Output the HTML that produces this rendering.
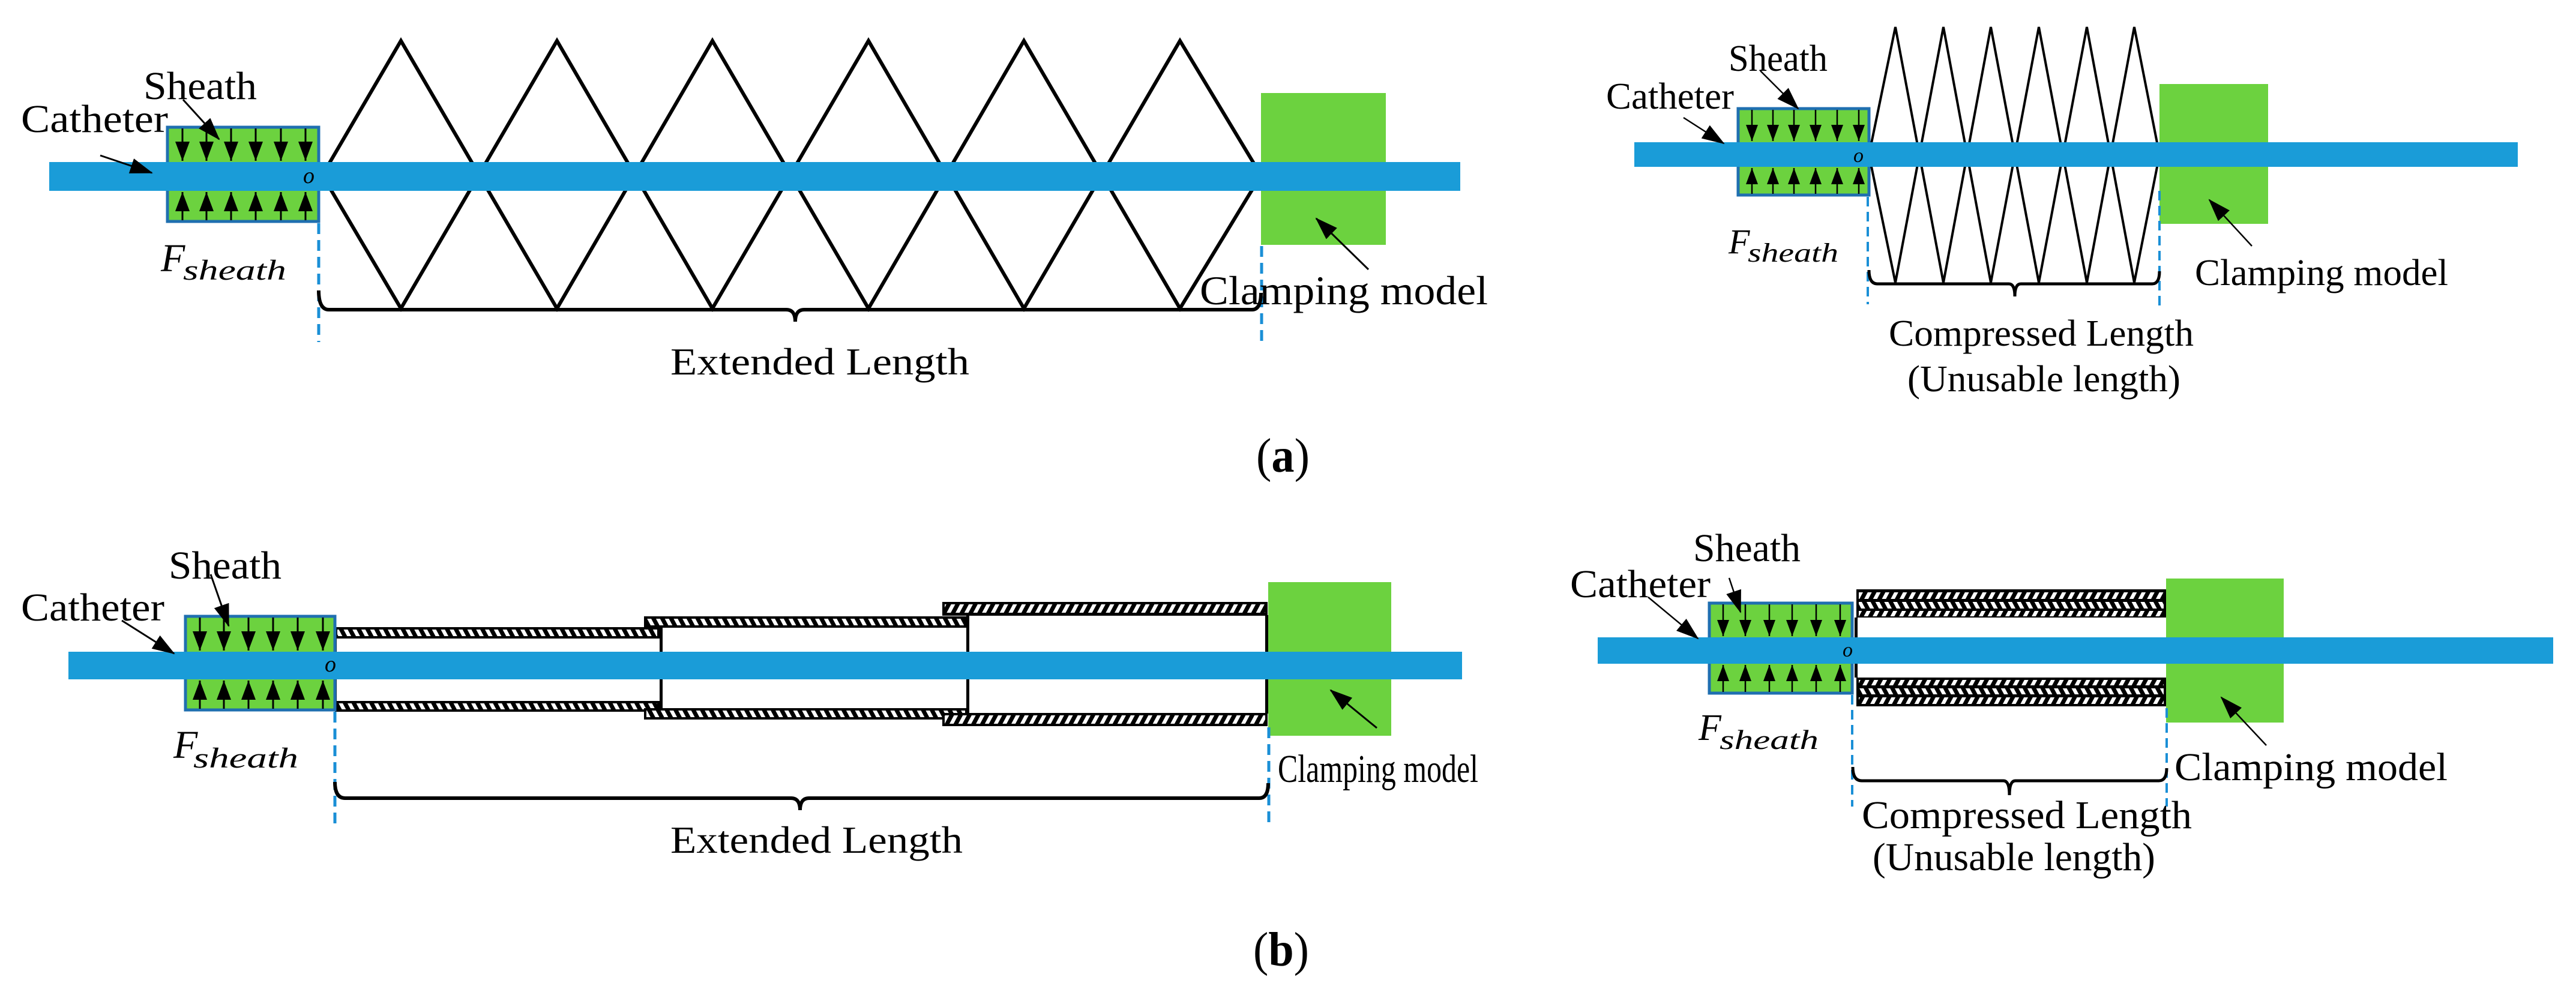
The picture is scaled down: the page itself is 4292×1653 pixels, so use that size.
<!DOCTYPE html>
<html><head><meta charset="utf-8"><style>
html,body{margin:0;padding:0;background:#fff;}
svg{display:block;}
text{font-family:"Liberation Serif",serif;fill:#000;}
</style></head><body>
<svg width="4292" height="1653" viewBox="0 0 4292 1653" xmlns="http://www.w3.org/2000/svg">
<defs>
<marker id="ah" markerUnits="userSpaceOnUse" markerWidth="40" markerHeight="28" refX="36" refY="13" orient="auto"><path d="M0,0 L38,13 L0,26 z" fill="#000"/></marker>
<marker id="sa" markerUnits="userSpaceOnUse" markerWidth="34" markerHeight="26" refX="32" refY="12" orient="auto"><path d="M0,0 L32,12 L0,24 z" fill="#000"/></marker>
<marker id="sb" markerUnits="userSpaceOnUse" markerWidth="30" markerHeight="22" refX="27" refY="10" orient="auto"><path d="M0,0 L27,10 L0,20 z" fill="#000"/></marker>
<pattern id="h1" patternUnits="userSpaceOnUse" width="13" height="13" patternTransform="rotate(28)"><rect width="13" height="13" fill="#000"/><rect width="6" height="13" fill="#fff"/></pattern>
<pattern id="h2" patternUnits="userSpaceOnUse" width="13" height="13" patternTransform="rotate(-28)"><rect width="13" height="13" fill="#000"/><rect width="6" height="13" fill="#fff"/></pattern>
</defs>

<!-- ================= (a) LEFT ================= -->
<rect x="2101" y="155" width="208" height="253" fill="#6cd23f"/>
<rect x="279" y="212" width="252" height="157" fill="#6cd23f" stroke="#1f6fb0" stroke-width="5"/>
<g fill="none" stroke="#000" stroke-width="6" stroke-linejoin="miter">
<polyline points="537,292 668,68 928,514 1187,68 1447,514 1706,68 1966,514 2101,292"/>
<polyline points="537,292 668,514 928,68 1187,514 1447,68 1706,514 1966,68 2101,292"/>
</g>
<rect x="82" y="270" width="2351" height="48" fill="#1a9cd8"/>
<g stroke="#000" stroke-width="3">
<line x1="304" y1="214" x2="304" y2="268" marker-end="url(#sa)"/>
<line x1="344" y1="214" x2="344" y2="268" marker-end="url(#sa)"/>
<line x1="385" y1="214" x2="385" y2="268" marker-end="url(#sa)"/>
<line x1="426" y1="214" x2="426" y2="268" marker-end="url(#sa)"/>
<line x1="468" y1="214" x2="468" y2="268" marker-end="url(#sa)"/>
<line x1="509" y1="214" x2="509" y2="268" marker-end="url(#sa)"/>
<line x1="304" y1="367" x2="304" y2="320" marker-end="url(#sa)"/>
<line x1="344" y1="367" x2="344" y2="320" marker-end="url(#sa)"/>
<line x1="385" y1="367" x2="385" y2="320" marker-end="url(#sa)"/>
<line x1="426" y1="367" x2="426" y2="320" marker-end="url(#sa)"/>
<line x1="468" y1="367" x2="468" y2="320" marker-end="url(#sa)"/>
<line x1="509" y1="367" x2="509" y2="320" marker-end="url(#sa)"/>
</g>
<g stroke="#1a8fd6" stroke-width="5" stroke-dasharray="18 10">
<line x1="531" y1="372" x2="531" y2="570"/>
<line x1="2102" y1="410" x2="2102" y2="572"/>
</g>
<path d="M531,484 Q531,516 548,516 L1310,516 Q1325,516 1325,536 Q1325,516 1340,516 L2086,516 Q2101,516 2101,488" fill="none" stroke="#000" stroke-width="6"/>
<g stroke="#000" stroke-width="3">
<line x1="305" y1="166" x2="365" y2="232" marker-end="url(#ah)"/>
<line x1="167" y1="259" x2="253" y2="288" marker-end="url(#ah)"/>
<line x1="2280" y1="449" x2="2193" y2="364" marker-end="url(#ah)"/>
</g>
<text x="35" y="220" font-size="66" textLength="245" lengthAdjust="spacingAndGlyphs">Catheter</text>
<text x="239" y="165" font-size="66" textLength="189" lengthAdjust="spacingAndGlyphs">Sheath</text>
<text x="505" y="305" font-size="38" font-style="italic">o</text>
<text x="268" y="452" font-size="66" font-style="italic">F</text>
<text x="305" y="466" font-size="48" font-style="italic" textLength="172" lengthAdjust="spacingAndGlyphs">sheath</text>
<text x="1117" y="624" font-size="64" textLength="498" lengthAdjust="spacingAndGlyphs">Extended Length</text>
<text x="1999" y="507" font-size="68" textLength="480" lengthAdjust="spacingAndGlyphs">Clamping model</text>
<text x="2093" y="786" font-size="80" textLength="89" lengthAdjust="spacingAndGlyphs">(<tspan font-weight="bold">a</tspan>)</text>

<!-- ================= (a) RIGHT ================= -->
<rect x="3598" y="140" width="181" height="233" fill="#6cd23f"/>
<rect x="2896" y="181" width="218" height="144" fill="#6cd23f" stroke="#1f6fb0" stroke-width="5"/>
<g fill="none" stroke="#000" stroke-width="4">
<polyline points="3114,258 3158,45 3238,471 3317,45 3397,471 3477,45 3556,471 3598,258"/>
<polyline points="3114,258 3158,471 3238,45 3317,471 3397,45 3477,471 3556,45 3598,258"/>
</g>
<rect x="2723" y="237" width="1472" height="41" fill="#1a9cd8"/>
<g stroke="#000" stroke-width="2.5">
<line x1="2919" y1="183" x2="2919" y2="235" marker-end="url(#sb)"/>
<line x1="2954" y1="183" x2="2954" y2="235" marker-end="url(#sb)"/>
<line x1="2989" y1="183" x2="2989" y2="235" marker-end="url(#sb)"/>
<line x1="3025" y1="183" x2="3025" y2="235" marker-end="url(#sb)"/>
<line x1="3061" y1="183" x2="3061" y2="235" marker-end="url(#sb)"/>
<line x1="3097" y1="183" x2="3097" y2="235" marker-end="url(#sb)"/>
<line x1="2919" y1="323" x2="2919" y2="280" marker-end="url(#sb)"/>
<line x1="2954" y1="323" x2="2954" y2="280" marker-end="url(#sb)"/>
<line x1="2989" y1="323" x2="2989" y2="280" marker-end="url(#sb)"/>
<line x1="3025" y1="323" x2="3025" y2="280" marker-end="url(#sb)"/>
<line x1="3061" y1="323" x2="3061" y2="280" marker-end="url(#sb)"/>
<line x1="3097" y1="323" x2="3097" y2="280" marker-end="url(#sb)"/>
</g>
<g stroke="#1a8fd6" stroke-width="4" stroke-dasharray="16 9">
<line x1="3112" y1="328" x2="3112" y2="507"/>
<line x1="3598" y1="318" x2="3598" y2="518"/>
</g>
<path d="M3114,450 Q3114,473 3128,473 L3347,473 Q3357,473 3357,494 Q3357,473 3367,473 L3586,473 Q3598,473 3598,452" fill="none" stroke="#000" stroke-width="5"/>
<g stroke="#000" stroke-width="2.5">
<line x1="2933" y1="118" x2="2996" y2="181" marker-end="url(#ah)"/>
<line x1="2805" y1="196" x2="2872" y2="239" marker-end="url(#ah)"/>
<line x1="3752" y1="410" x2="3681" y2="333" marker-end="url(#ah)"/>
</g>
<text x="2676" y="181" font-size="62" textLength="213" lengthAdjust="spacingAndGlyphs">Catheter</text>
<text x="2880" y="118" font-size="62" textLength="165" lengthAdjust="spacingAndGlyphs">Sheath</text>
<text x="3088" y="270" font-size="34" font-style="italic">o</text>
<text x="2880" y="422" font-size="58" font-style="italic">F</text>
<text x="2912" y="436" font-size="44" font-style="italic" textLength="151" lengthAdjust="spacingAndGlyphs">sheath</text>
<text x="3147" y="576" font-size="62" textLength="508" lengthAdjust="spacingAndGlyphs">Compressed Length</text>
<text x="3178" y="652" font-size="62" textLength="455" lengthAdjust="spacingAndGlyphs">(Unusable length)</text>
<text x="3657" y="475" font-size="62" textLength="422" lengthAdjust="spacingAndGlyphs">Clamping model</text>

<!-- ================= (b) LEFT ================= -->
<rect x="2113" y="970" width="205" height="256" fill="#6cd23f"/>
<rect x="558" y="1045" width="541" height="19" fill="#000"/><rect x="562" y="1049" width="533" height="11" fill="url(#h2)"/>
<rect x="558" y="1168" width="541" height="18" fill="#000"/><rect x="562" y="1172" width="533" height="10" fill="url(#h2)"/>
<rect x="1073" y="1027" width="539" height="19" fill="#000"/><rect x="1077" y="1031" width="531" height="11" fill="url(#h2)"/>
<rect x="1073" y="1180" width="539" height="19" fill="#000"/><rect x="1077" y="1184" width="531" height="11" fill="url(#h2)"/>
<rect x="1099" y="1045" width="5" height="136" fill="#000"/>
<rect x="1570" y="1003" width="542" height="23" fill="#000"/><rect x="1574" y="1007" width="534" height="14" fill="url(#h1)"/>
<rect x="1570" y="1188" width="542" height="22" fill="#000"/><rect x="1574" y="1192" width="534" height="14" fill="url(#h1)"/>
<rect x="1610" y="1025" width="5" height="164" fill="#000"/>
<rect x="2108" y="1025" width="5" height="164" fill="#000"/>
<rect x="556" y="1060" width="5" height="112" fill="#000"/>
<rect x="309" y="1027" width="249" height="156" fill="#6cd23f" stroke="#1f6fb0" stroke-width="5"/>
<rect x="114" y="1086" width="2322" height="46" fill="#1a9cd8"/>
<g stroke="#000" stroke-width="3">
<line x1="333" y1="1029" x2="333" y2="1084" marker-end="url(#sa)"/>
<line x1="373" y1="1029" x2="373" y2="1084" marker-end="url(#sa)"/>
<line x1="414" y1="1029" x2="414" y2="1084" marker-end="url(#sa)"/>
<line x1="455" y1="1029" x2="455" y2="1084" marker-end="url(#sa)"/>
<line x1="496" y1="1029" x2="496" y2="1084" marker-end="url(#sa)"/>
<line x1="538" y1="1029" x2="538" y2="1084" marker-end="url(#sa)"/>
<line x1="333" y1="1181" x2="333" y2="1134" marker-end="url(#sa)"/>
<line x1="373" y1="1181" x2="373" y2="1134" marker-end="url(#sa)"/>
<line x1="414" y1="1181" x2="414" y2="1134" marker-end="url(#sa)"/>
<line x1="455" y1="1181" x2="455" y2="1134" marker-end="url(#sa)"/>
<line x1="496" y1="1181" x2="496" y2="1134" marker-end="url(#sa)"/>
<line x1="538" y1="1181" x2="538" y2="1134" marker-end="url(#sa)"/>
</g>
<g stroke="#1a8fd6" stroke-width="5" stroke-dasharray="18 10">
<line x1="558" y1="1186" x2="558" y2="1380"/>
<line x1="2114" y1="1212" x2="2114" y2="1380"/>
</g>
<path d="M558,1303 Q558,1330 575,1330 L1318,1330 Q1333,1330 1333,1350 Q1333,1330 1348,1330 L2098,1330 Q2113,1330 2113,1305" fill="none" stroke="#000" stroke-width="6"/>
<g stroke="#000" stroke-width="3">
<line x1="351" y1="957" x2="381" y2="1043" marker-end="url(#ah)"/>
<line x1="203" y1="1034" x2="290" y2="1089" marker-end="url(#ah)"/>
<line x1="2294" y1="1213" x2="2217" y2="1150" marker-end="url(#ah)"/>
</g>
<text x="35" y="1034" font-size="66" textLength="239" lengthAdjust="spacingAndGlyphs">Catheter</text>
<text x="281" y="964" font-size="66" textLength="188" lengthAdjust="spacingAndGlyphs">Sheath</text>
<text x="541" y="1119" font-size="38" font-style="italic">o</text>
<text x="289" y="1263" font-size="66" font-style="italic">F</text>
<text x="322" y="1279" font-size="48" font-style="italic" textLength="175" lengthAdjust="spacingAndGlyphs">sheath</text>
<text x="1117" y="1421" font-size="64" textLength="487" lengthAdjust="spacingAndGlyphs">Extended Length</text>
<text x="2129" y="1303" font-size="66" textLength="334" lengthAdjust="spacingAndGlyphs">Clamping model</text>
<text x="2088" y="1609" font-size="80" textLength="93" lengthAdjust="spacingAndGlyphs">(<tspan font-weight="bold">b</tspan>)</text>

<!-- ================= (b) RIGHT ================= -->
<rect x="3609" y="964" width="196" height="240" fill="#6cd23f"/>
<rect x="3093" y="982" width="516" height="47" fill="#000"/>
<rect x="3097" y="987" width="508" height="11" fill="url(#h1)"/>
<rect x="3097" y="1003" width="508" height="11" fill="url(#h2)"/>
<rect x="3097" y="1018" width="508" height="9" fill="url(#h1)"/>
<rect x="3093" y="1129" width="516" height="48" fill="#000"/>
<rect x="3097" y="1133" width="508" height="9" fill="url(#h1)"/>
<rect x="3097" y="1147" width="508" height="10" fill="url(#h2)"/>
<rect x="3097" y="1162" width="508" height="11" fill="url(#h1)"/>
<rect x="3090" y="1029" width="5" height="100" fill="#000"/>
<rect x="2848" y="1005" width="238" height="150" fill="#6cd23f" stroke="#1f6fb0" stroke-width="5"/>
<rect x="2662" y="1062" width="1592" height="44" fill="#1a9cd8"/>
<g stroke="#000" stroke-width="2.5">
<line x1="2871" y1="1007" x2="2871" y2="1060" marker-end="url(#sb)"/>
<line x1="2908" y1="1007" x2="2908" y2="1060" marker-end="url(#sb)"/>
<line x1="2948" y1="1007" x2="2948" y2="1060" marker-end="url(#sb)"/>
<line x1="2986" y1="1007" x2="2986" y2="1060" marker-end="url(#sb)"/>
<line x1="3026" y1="1007" x2="3026" y2="1060" marker-end="url(#sb)"/>
<line x1="3066" y1="1007" x2="3066" y2="1060" marker-end="url(#sb)"/>
<line x1="2871" y1="1153" x2="2871" y2="1108" marker-end="url(#sb)"/>
<line x1="2908" y1="1153" x2="2908" y2="1108" marker-end="url(#sb)"/>
<line x1="2948" y1="1153" x2="2948" y2="1108" marker-end="url(#sb)"/>
<line x1="2986" y1="1153" x2="2986" y2="1108" marker-end="url(#sb)"/>
<line x1="3026" y1="1153" x2="3026" y2="1108" marker-end="url(#sb)"/>
<line x1="3066" y1="1153" x2="3066" y2="1108" marker-end="url(#sb)"/>
</g>
<g stroke="#1a8fd6" stroke-width="4" stroke-dasharray="16 9">
<line x1="3086" y1="1158" x2="3086" y2="1344"/>
<line x1="3610" y1="1180" x2="3610" y2="1344"/>
</g>
<path d="M3087,1278 Q3087,1301 3102,1301 L3338,1301 Q3348,1301 3348,1325 Q3348,1301 3358,1301 L3597,1301 Q3610,1301 3610,1280" fill="none" stroke="#000" stroke-width="5"/>
<g stroke="#000" stroke-width="2.5">
<line x1="2881" y1="963" x2="2900" y2="1020" marker-end="url(#ah)"/>
<line x1="2746" y1="995" x2="2829" y2="1064" marker-end="url(#ah)"/>
<line x1="3776" y1="1242" x2="3701" y2="1162" marker-end="url(#ah)"/>
</g>
<text x="2616" y="995" font-size="66" textLength="234" lengthAdjust="spacingAndGlyphs">Catheter</text>
<text x="2821" y="935" font-size="66" textLength="179" lengthAdjust="spacingAndGlyphs">Sheath</text>
<text x="3070" y="1094" font-size="34" font-style="italic">o</text>
<text x="2830" y="1233" font-size="62" font-style="italic">F</text>
<text x="2865" y="1248" font-size="46" font-style="italic" textLength="165" lengthAdjust="spacingAndGlyphs">sheath</text>
<text x="3102" y="1380" font-size="66" textLength="550" lengthAdjust="spacingAndGlyphs">Compressed Length</text>
<text x="3120" y="1450" font-size="66" textLength="471" lengthAdjust="spacingAndGlyphs">(Unusable length)</text>
<text x="3623" y="1300" font-size="66" textLength="455" lengthAdjust="spacingAndGlyphs">Clamping model</text>
</svg>
</body></html>
